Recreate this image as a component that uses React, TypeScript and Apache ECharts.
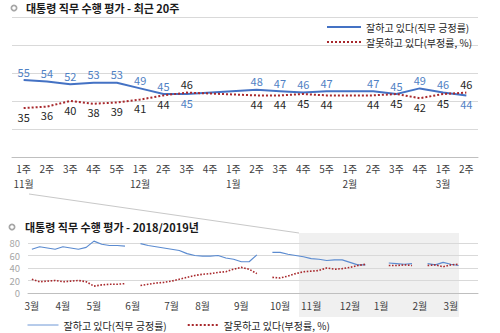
import React, { useEffect, useRef } from 'react';
import * as echarts from 'echarts';

const POS = '잘하고 있다(직무 긍정률)';
const NEG = '잘못하고 있다(부정률, %)';
const TITLE_TOP = '대통령 직무 수행 평가 - 최근 20주';
const TITLE_BOTTOM = '대통령 직무 수행 평가 - 2018/2019년';

// Top chart: last 20 weeks
const topWeeks = ['1주', '2주', '3주', '4주', '5주', '1주', '2주', '3주', '4주', '1주', '2주', '3주', '4주', '5주', '1주', '2주', '3주', '4주', '1주', '2주'];
const topMonths = ['11월', '', '', '', '', '12월', '', '', '', '1월', '', '', '', '', '2월', '', '', '', '3월', ''];
const topPos = [55, 54, 52, 53, 53, 49, 45, 45, null, null, 48, 47, 46, 47, null, 47, 45, 49, 46, 44];
const topNeg = [35, 36, 40, 38, 39, 41, 44, 46, null, null, 44, 44, 45, 44, null, 44, 45, 42, 45, 46];
const flipLabelIdx = [7, 19];

// Bottom chart: 2018/2019 weekly
const monthLabels = ['3월', '4월', '5월', '6월', '7월', '8월', '9월', '10월', '11월', '12월', '1월', '2월', '3월'];
const monthYears = [2018, 2018, 2018, 2018, 2018, 2018, 2018, 2018, 2018, 2018, 2019, 2019, 2019];
const weeksInMonth = [4, 4, 5, 5, 4, 5, 5, 4, 5, 4, 5, 4, 2];
const bottomPos = [
  70, 74, 72, 70, 74, 72, 70, 73, 83, 78, 76, 76, 75, null,
  79, 76, 74, 72, 70, 68, 63, 60, 59, 59, 60, 56, 54, 50, 50, 61, null,
  65, 65, 62, 60, 58,
  55, 54, 52, 53, 53, 49, 45, 45, null, null, 48, 47, 46, 47, null, 47, 45, 49, 46, 44,
];
const bottomNeg = [
  22, 18, 19, 20, 18, 19, 20, 18, 11, 13, 14, 14, 15, null,
  12, 14, 16, 17, 19, 22, 25, 28, 30, 31, 33, 34, 38, 41, 38, 31, null,
  25, 24, 27, 31, 34,
  35, 36, 40, 38, 39, 41, 44, 46, null, null, 44, 44, 45, 44, null, 44, 45, 42, 45, 46,
];
const paddingWeeks = ['pad-1', 'pad-2'];

const FONT = "'Noto Sans CJK KR', 'Noto Sans', sans-serif";
const BLUE = '#4472C4';
const BLUE_LABEL = '#4F81C4';
const RED = '#A8282C';

export default function App() {
  const ref = useRef<HTMLDivElement>(null);

  useEffect(() => {
    if (!ref.current) return;
    const chart = echarts.init(ref.current, null, { renderer: 'svg' });

    const bottomCats: string[] = [];
    const monthStart: Record<number, string> = {};
    monthLabels.forEach((m, mi) => {
      for (let w = 1; w <= weeksInMonth[mi]; w++) {
        if (w === 1) monthStart[bottomCats.length] = m;
        bottomCats.push(`${monthYears[mi]}-${m} ${w}주`);
      }
    });
    const dataLen = bottomCats.length;
    paddingWeeks.forEach((p) => bottomCats.push(p));
    const topCats = bottomCats.slice(dataLen - topWeeks.length, dataLen);

    const mk = (arr: (number | null)[], normalPos: string, flipPos: string) =>
      arr.map((v, i) =>
        v == null ? '-' : { value: v, label: { position: flipLabelIdx.includes(i) ? flipPos : normalPos } }
      );

    const option: any = {
      animation: false,
      backgroundColor: '#ffffff',
      textStyle: { fontFamily: FONT },
      grid: [
        { left: 12, right: 22, top: 17, height: 140 },
        { left: 28, right: 22, top: 243, height: 50 },
      ],
      xAxis: [
        {
          type: 'category', gridIndex: 0, data: topCats, boundaryGap: true,
          axisLine: { lineStyle: { color: '#BFBFBF' } },
          axisTick: { length: 3, lineStyle: { color: '#BFBFBF' } },
          axisLabel: {
            interval: 0, fontSize: 10, color: '#404040', lineHeight: 15, margin: 4, fontFamily: FONT,
            formatter: (_v: string, i: number) => topWeeks[i] + (topMonths[i] ? '\n' + topMonths[i] : ''),
          },
        },
        {
          type: 'category', gridIndex: 1, data: bottomCats, boundaryGap: true,
          axisLine: { lineStyle: { color: '#BFBFBF' } },
          axisTick: { interval: 0, length: 3, lineStyle: { color: '#BFBFBF' } },
          axisLabel: {
            interval: (i: number) => monthStart[i] != null,
            fontSize: 10, color: '#404040', margin: 7, fontFamily: FONT,
            formatter: (_v: string, i: number) => monthStart[i] ?? '',
          },
        },
      ],
      yAxis: [
        {
          type: 'value', gridIndex: 0, min: 0, max: 100, interval: 20,
          axisLabel: { show: false }, axisLine: { show: false }, axisTick: { show: false },
          splitLine: { lineStyle: { color: '#D9D9D9' } },
        },
        {
          type: 'value', gridIndex: 1, min: 0, max: 80, interval: 20,
          axisLabel: { fontSize: 9.5, lineHeight: 10, color: '#A6A6A6', margin: 8, fontFamily: FONT },
          axisLine: { show: false }, axisTick: { show: false },
          splitLine: { lineStyle: { color: '#D9D9D9' } },
        },
      ],
      legend: [
        {
          orient: 'vertical', left: 321, top: 17, itemWidth: 34, itemHeight: 10, itemGap: 5,
          itemStyle: { opacity: 0 },
          textStyle: { fontSize: 10, color: '#262626', fontFamily: FONT },
          data: [POS, NEG],
        },
        {
          orient: 'horizontal', left: 22, top: 315, itemWidth: 31, itemHeight: 10, itemGap: 20,
          itemStyle: { opacity: 0 },
          textStyle: { fontSize: 10, color: '#262626', fontFamily: FONT },
          data: [{ name: POS, lineStyle: { width: 1, color: '#6E98D6' } }, { name: NEG }],
        },
      ],
      series: [
        {
          name: POS, type: 'line', xAxisIndex: 0, yAxisIndex: 0, data: mk(topPos, 'top', 'bottom'),
          connectNulls: true, symbol: 'circle', symbolSize: 0, showSymbol: true,
          lineStyle: { color: BLUE, width: 2 }, itemStyle: { color: BLUE },
          label: { show: true, distance: 3, fontSize: 11, color: BLUE_LABEL, fontFamily: FONT },
          z: 3,
        },
        {
          name: NEG, type: 'line', xAxisIndex: 0, yAxisIndex: 0, data: mk(topNeg, 'bottom', 'top'),
          connectNulls: true, symbol: 'circle', symbolSize: 0, showSymbol: true,
          lineStyle: { color: RED, width: 2, type: 'dotted' }, itemStyle: { color: RED },
          label: { show: true, distance: 3, fontSize: 11, color: '#262626', fontFamily: FONT },
        },
        {
          name: POS, type: 'line', xAxisIndex: 1, yAxisIndex: 1, data: bottomPos.map((v) => (v == null ? '-' : v)),
          connectNulls: false, symbol: 'none', showSymbol: false, clip: false,
          lineStyle: { color: '#5B8BD0', width: 1.2 },
        },
        {
          name: NEG, type: 'line', xAxisIndex: 1, yAxisIndex: 1, data: bottomNeg.map((v) => (v == null ? '-' : v)),
          connectNulls: false, symbol: 'none', showSymbol: false,
          lineStyle: { color: RED, width: 1.6, type: 'dotted' },
        },
      ],
      graphic: [
        { type: 'rect', z: -10, shape: { x: 299, y: 233, width: 160, height: 84 }, style: { fill: '#F0F0F0' } },
        { type: 'line', z: -5, shape: { x1: 29, y1: 194, x2: 299, y2: 233 }, style: { stroke: '#C8C8C8', lineWidth: 1 } },
        { type: 'ring', shape: { cx: 14, cy: 8, r: 3.5, r0: 1.8 }, style: { fill: '#A6A6A6' } },
        {
          type: 'text', x: 26, y: 8,
          style: { text: TITLE_TOP, fontSize: 11, fontWeight: 'bold', fontFamily: FONT, fill: '#1A1A1A', verticalAlign: 'middle' },
        },
        { type: 'ring', shape: { cx: 12, cy: 227, r: 3.5, r0: 1.8 }, style: { fill: '#A6A6A6' } },
        {
          type: 'text', x: 25, y: 227,
          style: { text: TITLE_BOTTOM, fontSize: 11, fontWeight: 'bold', fontFamily: FONT, fill: '#1A1A1A', verticalAlign: 'middle' },
        },
      ],
    };

    chart.setOption(option);
    return () => chart.dispose();
  }, []);

  return (
    <div
      ref={ref}
      style={{ position: 'fixed', left: 0, top: 0, width: 500, height: 333, background: '#fff' }}
    />
  );
}
